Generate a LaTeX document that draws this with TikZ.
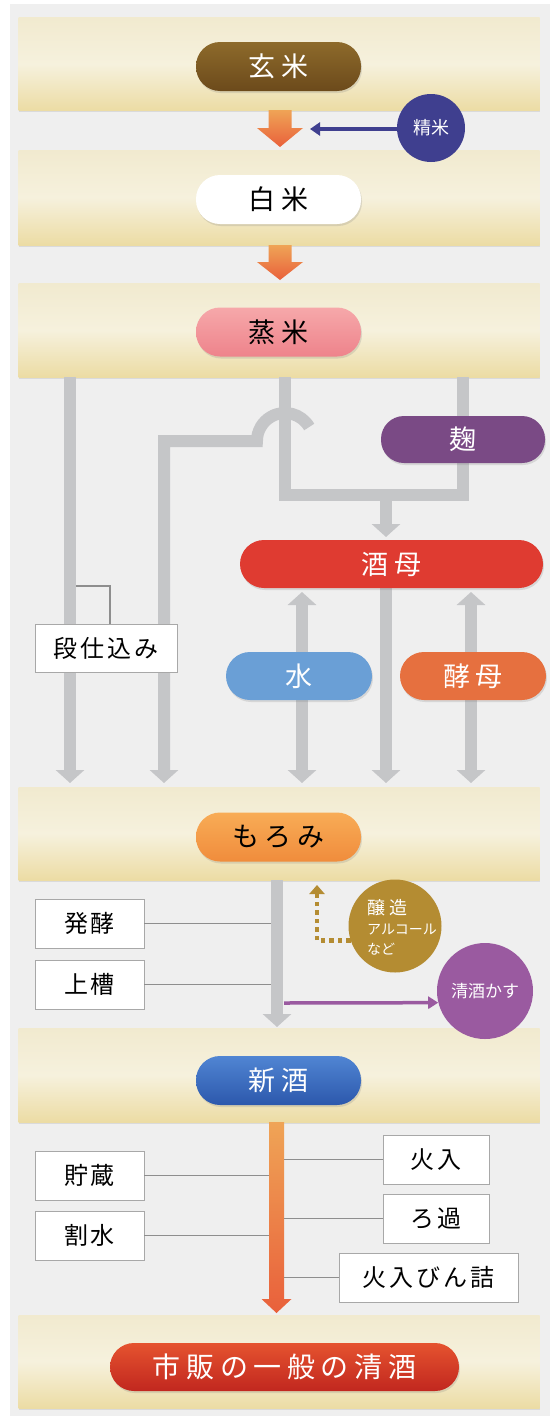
\documentclass[tikz,border=0pt]{standalone}
\usepackage{fontspec}
\newfontfamily\jp{Noto Sans CJK JP}
\newfontfamily\jppill[LetterSpace=20]{Noto Sans CJK JP}
\newfontfamily\jpbox[LetterSpace=12]{Noto Sans CJK JP}
\usetikzlibrary{arrows.meta,shadows,calc}
\definecolor{panel}{HTML}{EFEFEF}
\definecolor{bandtop}{HTML}{F1EACF}
\definecolor{bandmid}{HTML}{F6F1DD}
\definecolor{bandbot}{HTML}{ECDCA4}
\definecolor{browntop}{HTML}{8D6A2B}
\definecolor{brownbot}{HTML}{6C4A1B}
\definecolor{pinktop}{HTML}{F6A8AA}
\definecolor{pinkbot}{HTML}{EE838B}
\definecolor{navy}{HTML}{3F3F8F}
\definecolor{pipegray}{HTML}{C5C6C8}
\definecolor{kojicol}{HTML}{7A4A85}
\definecolor{shubocol}{HTML}{DF3B31}
\definecolor{mizucol}{HTML}{6A9FD6}
\definecolor{kobocol}{HTML}{E6703F}
\definecolor{morotop}{HTML}{F8AC56}
\definecolor{morobot}{HTML}{F08C3C}
\definecolor{goldcol}{HTML}{B48C32}
\definecolor{kasucol}{HTML}{9A5AA0}
\definecolor{shintop}{HTML}{5085D3}
\definecolor{shinbot}{HTML}{2C58AC}
\definecolor{redtop}{HTML}{E5532F}
\definecolor{redbot}{HTML}{C1271F}
\definecolor{arrtop}{HTML}{EFA456}
\definecolor{arrbot}{HTML}{E9603B}
\definecolor{boxline}{HTML}{A8A8A8}
\definecolor{leader}{HTML}{8E8E8E}
\begin{document}
\begin{tikzpicture}[x=1pt,y=1pt,
  band/.style={rectangle,minimum width=521pt,minimum height=93pt,inner sep=0pt,
    top color=bandtop,bottom color=bandbot,middle color=bandmid,
    drop shadow={opacity=.18,shadow xshift=0pt,shadow yshift=-1.5pt}},
  pill/.style={rectangle,rounded corners=24pt,minimum width=165pt,minimum height=49pt,inner sep=0pt,
    font=\jppill\fontsize{27pt}{30pt}\selectfont,
    drop shadow={opacity=.22,shadow xshift=1pt,shadow yshift=-2pt}},
  stepbox/.style={rectangle,draw=boxline,line width=0.8pt,fill=white,inner sep=0pt,minimum height=49pt,
    font=\jpbox\fontsize{24pt}{26pt}\selectfont},
  disc/.style={circle,inner sep=0pt,text=white},
  pipe/.style={draw=pipegray,line width=12pt,line join=miter},
  pipetip/.style={-{Triangle[length=13pt,width=28pt]}},
  pipetips/.style={{Triangle[length=13pt,width=28pt]}-{Triangle[length=13pt,width=28pt]}},
  lead/.style={draw=leader,line width=1.2pt}
]
\useasboundingbox (0,0) rectangle (558,-1416);
\fill[white] (0,0) rectangle (558,-1416);
\fill[panel] (10,-4) rectangle (550,-1416);

% bands
\node[band] (band1) at (279,-64) {};
\node[band,minimum height=95pt] (band2) at (279,-197.5) {};
\node[band,minimum height=94pt] (band3) at (279,-330) {};
\node[band] (band4) at (279,-833.5) {};
\node[band,minimum height=94pt] (band5) at (279,-1075) {};
\node[band] (band6) at (279,-1361.5) {};

% orange arrows between bands
\shade[top color=arrtop,bottom color=arrbot] (268.5,-110) -- (291.5,-110) -- (291.5,-128) -- (303,-128) -- (280,-147) -- (257,-128) -- (268.5,-128) -- cycle;
\shade[top color=arrtop,bottom color=arrbot] (268.5,-245) -- (291.5,-245) -- (291.5,-262) -- (303,-262) -- (280,-280) -- (257,-262) -- (268.5,-262) -- cycle;

% pipes from band3
\coordinate (p1end) at (70,-783);
\coordinate (p2end) at (164,-783);
\coordinate (hopEnd) at (309.2,-427);
\coordinate (p3top) at (285,-377);
\coordinate (p4top) at (463,-377);
\coordinate (joinMid) at (386,-495);
\coordinate (shuboTip) at (386,-537);
\draw[pipe,pipetip] (band3.south -| p1end) -- (p1end);
\draw[pipe] (p3top) -- (285,-495) -- (463,-495) -- (p4top);
\draw[pipe,pipetip] (hopEnd) arc[start angle=30,end angle=180,radius=28pt] -- (164,-441) -- (p2end);
\draw[pipe,pipetip] (joinMid) -- (shuboTip);

% pipes below shubo
\coordinate (mizuUp) at (302,-592);
\coordinate (mizuDn) at (302,-783);
\coordinate (midDn) at (386,-783);
\coordinate (koboUp) at (471,-592);
\coordinate (koboDn) at (471,-783);
\draw[pipe,pipetips] (mizuUp) -- (mizuDn);
\draw[pipe,pipetip] (386,-588) -- (midDn);
\draw[pipe,pipetips] (koboUp) -- (koboDn);

% main pipe below moromi
\coordinate (moroTip) at (277,-1027);
\draw[pipe,pipetip] (277,-880) -- (moroTip);

% bottom gradient arrow
\shade[top color=arrtop,bottom color=arrbot] (269,-1122) -- (284,-1122) -- (284,-1299) -- (291.5,-1299) -- (276.5,-1313) -- (261.5,-1299) -- (269,-1299) -- cycle;

% pills
\node[pill,top color=browntop,bottom color=brownbot,text=white] (genmai) at (278.5,-66.5) {玄米};
\node[pill,fill=white,text=black] (hakumai) at (278.5,-199.5) {白米};
\node[pill,top color=pinktop,bottom color=pinkbot,text=black] (mushimai) at (278.5,-332) {蒸米};
\node[pill,fill=kojicol,text=white,minimum width=164pt,minimum height=47pt,rounded corners=23pt] (koji) at (463,-439.5) {麹};
\node[pill,fill=shubocol,text=white,minimum width=303pt,minimum height=48pt] (shubo) at (391.5,-564) {酒母};
\node[pill,fill=mizucol,text=white,minimum width=146pt,minimum height=48pt] (mizu) at (299,-676) {水};
\node[pill,fill=kobocol,text=white,minimum width=146pt,minimum height=48pt] (kobo) at (473,-676) {酵母};
\node[pill,top color=morotop,bottom color=morobot,text=black] (moromi) at (278.5,-837) {もろみ};
\node[pill,top color=shintop,bottom color=shinbot,text=white] (shinshu) at (278.5,-1080.5) {新酒};
\node[pill,top color=redtop,bottom color=redbot,text=white,minimum width=349pt,minimum height=48pt,
  font=\jppill\fontsize{28pt}{30pt}\selectfont] (seishu) at (284.5,-1367) {市販の一般の清酒};

% seimai
\node[disc,fill=navy,minimum size=68pt,font=\jp\fontsize{18pt}{20pt}\selectfont] (seimai) at (431,-128) {精米};
\coordinate (seimaiTip) at (310,-129);
\draw[navy,line width=3.5pt,-{Triangle[length=10pt,width=13pt]}] (seimai.west |- seimaiTip) -- (seimaiTip);

% dan-jikomi box
\node[stepbox,minimum width=142pt,minimum height=48pt] (dan) at (106,-648) {段仕込み};
\coordinate (p1edge) at (76,-586);
\draw[lead] (dan.north -| 110,0) -- (110,-586) -- (p1edge);

% left boxes under moromi
\coordinate (mainL) at (271,-900);
\coordinate (mainR) at (283,-900);
\node[stepbox,minimum width=109pt] (hakko) at (89.5,-923.5) {発酵};
\node[stepbox,minimum width=109pt] (joso) at (89.5,-984.5) {上槽};
\draw[lead] (hakko.east) -- (hakko.east -| mainL);
\draw[lead] (joso.east) -- (joso.east -| mainL);

% jozo alcohol
\node[disc,fill=goldcol,minimum size=93pt] (jozo) at (395,-926) {};
\node[text=white,align=left,inner sep=0pt,font=\jp\fontsize{14pt}{20pt}\selectfont] (jozoText) at (402,-927)
  {{\fontsize{18pt}{20pt}\selectfont 醸 造}\\アルコール\\など};
\coordinate (dotTip) at (317,-885);
\draw[goldcol,line width=4.5pt,dash pattern=on 4.5pt off 4pt,-{Triangle[length=9pt,width=15pt]}]
  (jozo.198) -- (dotTip |- jozo.198) -- (dotTip);

% sake kasu
\node[disc,fill=kasucol,minimum size=96pt,font=\jp\fontsize{17pt}{20pt}\selectfont] (kasu) at (485,-991) {清酒かす};
\coordinate (kasuStart) at (284,-1003);
\draw[kasucol,line width=3.5pt,-{Triangle[length=10pt,width=12pt]}] (kasuStart) -- (kasu.194);

% boxes below shinshu
\coordinate (botL) at (269,-1150);
\coordinate (botR) at (284,-1150);
\node[stepbox,minimum width=109pt] (chozo) at (89.5,-1175.5) {貯蔵};
\node[stepbox,minimum width=109pt] (warimizu) at (89.5,-1235.5) {割水};
\node[stepbox,minimum width=106pt] (hiire) at (436,-1159.5) {火入};
\node[stepbox,minimum width=106pt] (roka) at (436,-1218.5) {ろ過};
\node[stepbox,minimum width=179pt] (binzume) at (428.5,-1277.5) {火入びん詰};
\draw[lead] (chozo.east) -- (chozo.east -| botL);
\draw[lead] (warimizu.east) -- (warimizu.east -| botL);
\draw[lead] (hiire.west) -- (hiire.west -| botR);
\draw[lead] (roka.west) -- (roka.west -| botR);
\draw[lead] (binzume.west) -- (binzume.west -| botR);
\end{tikzpicture}
\end{document}
